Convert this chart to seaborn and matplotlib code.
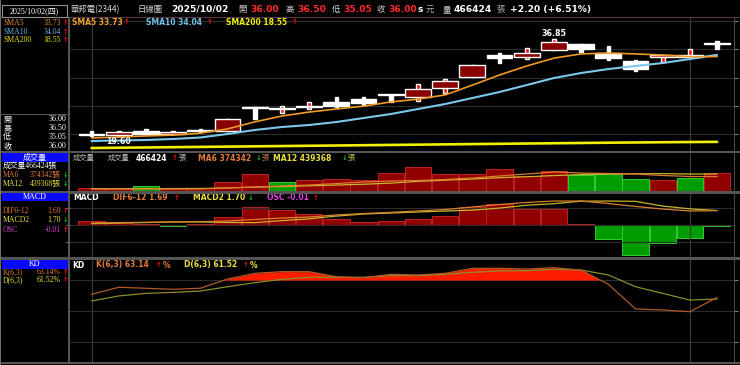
import numpy as np
import pandas as pd
import seaborn as sns
import matplotlib.pyplot as plt
from matplotlib.patches import Rectangle

# ---- values (華邦電 2344, daily) ----
days = list(range(24))
opens = [19.80, 19.80, 20.50, 20.00, 20.45, 20.50, 24.75, 24.35, 24.70, 25.65, 26.20, 26.90,
         26.50, 28.10, 30.10, 34.00, 33.70, 34.90, 35.95, 34.35, 32.95, 33.70, 33.70, 36.00]
highs = [20.45, 20.40, 20.80, 20.45, 20.85, 22.60, 24.75, 24.95, 25.60, 26.55, 26.55, 26.90,
         28.85, 29.70, 32.20, 34.35, 35.25, 36.85, 35.95, 35.60, 33.10, 33.85, 35.05, 36.50]
lows = [19.65, 19.60, 19.95, 19.95, 20.30, 20.45, 22.65, 23.60, 24.40, 24.75, 25.10, 25.65,
        25.90, 27.25, 30.10, 32.60, 33.30, 34.90, 34.55, 33.10, 31.15, 32.75, 33.65, 35.05]
closes = [19.80, 20.30, 19.95, 20.10, 20.50, 22.60, 24.55, 24.50, 24.75, 24.95, 25.50, 26.80,
          27.95, 29.40, 32.20, 33.45, 34.35, 36.30, 35.10, 33.45, 31.50, 33.85, 33.80, 36.00]

sma5 = [19.25, 19.40, 19.60, 19.75, 20.10, 20.85, 22.10, 23.15, 23.85, 24.40, 24.90, 25.65,
        26.15, 26.90, 28.65, 30.45, 32.05, 33.45, 34.20, 34.35, 34.20, 34.00, 33.70, 33.73]
sma10 = [18.70, 18.79, 18.88, 19.06, 19.32, 19.95, 20.66, 21.19, 21.55, 22.08, 22.79, 23.50,
         24.39, 25.28, 26.35, 27.42, 28.66, 29.91, 30.80, 31.51, 32.05, 32.58, 33.29, 34.04]
sma200 = [17.45, 17.50, 17.55, 17.60, 17.65, 17.70, 17.75, 17.80, 17.85, 17.90, 17.95, 18.00,
          18.05, 18.10, 18.15, 18.20, 18.25, 18.30, 18.35, 18.40, 18.44, 18.48, 18.52, 18.55]

vols = [78000, 78000, 122000, 88000, 88000, 233000, 433000, 233000, 277000, 311000, 295000, 466000,
        622000, 433000, 433000, 562000, 381000, 518000, 407000, 433000, 303000, 277000, 337000, 466424]
vol_up = [1, 1, 0, 1, 1, 1, 1, 0, 1, 1, 1, 1, 1, 1, 1, 1, 1, 1, 0, 0, 0, 1, 0, 1]
vol_ma6 = [52000, 52000, 52000, 52000, 52000, 78000, 104000, 130000, 155000, 194000, 233000, 259000,
           272000, 298000, 337000, 389000, 440000, 492000, 466000, 453000, 440000, 402000, 376000, 374342]
vol_ma12 = [60000, 60000, 62000, 64000, 66000, 80000, 100000, 115000, 135000, 155000, 175000, 205000,
            250000, 280000, 310000, 345000, 370000, 400000, 425000, 440000, 445000, 450000, 440000, 439368]

dif = [0.24, 0.29, 0.32, 0.35, 0.39, 0.47, 0.65, 0.82, 0.94, 1.18, 1.35, 1.49,
       1.65, 1.82, 2.12, 2.41, 2.65, 2.82, 2.82, 2.53, 2.18, 1.88, 1.65, 1.69]
macd = [0.16, 0.22, 0.29, 0.37, 0.36, 0.30, 0.28, 0.52, 0.72, 1.05, 1.29, 1.41,
        1.53, 1.64, 1.75, 1.99, 2.33, 2.51, 2.80, 2.82, 2.78, 2.23, 1.90, 1.70]
osc = [0.08, 0.066, 0.026, -0.02, 0.026, 0.166, 0.366, 0.30, 0.22, 0.126, 0.06, 0.08,
       0.12, 0.18, 0.366, 0.42, 0.32, 0.314, 0.02, -0.286, -0.60, -0.354, -0.254, -0.01]

k_val = [66.1, 73.0, 72.0, 71.0, 72.0, 81.0, 86.6, 88.2, 88.2, 83.3, 82.3, 85.6,
         85.0, 86.6, 91.5, 91.5, 90.8, 92.1, 89.8, 75.9, 51.8, 50.8, 49.1, 63.14]
d_val = [59.6, 64.5, 67.0, 68.0, 69.3, 73.5, 77.5, 80.7, 82.7, 82.7, 82.7, 84.3,
         84.3, 85.6, 87.6, 88.9, 89.2, 90.5, 89.8, 85.0, 73.5, 67.0, 60.5, 61.52]

sns.set_theme(style="dark", rc={"axes.facecolor": "black", "figure.facecolor": "black"})

W, H = 740, 365
fig = plt.figure(figsize=(7.4, 3.65), dpi=100)


def fx(x):
    return x / W


def fy(y):
    return 1 - y / H


def add_ax(top, bottom, left=69.5, right=734):
    ax = fig.add_axes([fx(left), fy(bottom), (right - left) / W, (bottom - top) / H])
    ax.set_facecolor("black")
    for s in ax.spines.values():
        s.set_visible(False)
    ax.set_xlim(-0.81, 23.62)
    ax.tick_params(axis="x", bottom=False, labelbottom=False)
    ax.tick_params(axis="y", left=False, labelleft=False, right=True, labelright=False,
                   length=3, width=0.8, color="#808080", direction="out")
    ax.grid(False)
    for d in (0, 22):
        ax.axvline(d, color="#3c3c3c", lw=0.8, zorder=0)
    return ax


def hgrid(ax, levels):
    for v in levels:
        ax.axhline(v, color="#2c2c2c", lw=0.8, zorder=0)
    ax.set_yticks(levels)


def txt(x, y, s, color, size=5.5, kind="b", ha="left"):
    if kind == "c":
        kw = dict(family=["Noto Sans CJK TC", "DejaVu Sans"])
    elif kind == "s":
        kw = dict(family=["Liberation Serif", "Noto Sans CJK TC"])
    else:
        kw = dict(family=["DejaVu Sans"], fontweight="bold")
    fig.text(fx(x), fy(y), s, color=color, fontsize=size, ha=ha, va="center", **kw)


def rect(x0, y0, x1, y1, color, z=5, fill=True, ec=None):
    fig.add_artist(Rectangle((fx(x0), fy(y1)), (x1 - x0) / W, (y1 - y0) / H,
                             transform=fig.transFigure, facecolor=color if fill else "none",
                             edgecolor=ec if ec else "none", lw=0.8, zorder=z))


# ---- price panel ----
ax_p = add_ax(17.5, 150.5)
ax_p.set_ylim(17.01, 40.68)
hgrid(ax_p, [20, 25, 30, 35, 40])

for i in days:
    o, h, l, c = opens[i], highs[i], lows[i], closes[i]
    if c > o:
        body, wick = "#8a0000", "#ff1010"
    elif c < o:
        body, wick = "#ffffff", "#ffffff"
    else:
        body, wick = "#b8b8b8", "#ffffff"
    ax_p.bar(i, h - l, bottom=l, width=0.13, color=wick, zorder=2)
    bh = max(abs(c - o), 0.22)
    ax_p.bar(i, bh, bottom=min(o, c), width=0.95, color=body, zorder=3)

sns.lineplot(x=days, y=sma200, color="#f0f000", lw=1.9, ax=ax_p, zorder=4)
sns.lineplot(x=days, y=sma10, color="#7cc8ec", lw=1.5, ax=ax_p, zorder=4)
sns.lineplot(x=days, y=sma5, color="#f09a28", lw=1.2, ax=ax_p, zorder=5)
ax_p.set_xlim(-0.81, 23.62)
ax_p.set_ylim(17.01, 40.68)
ax_p.annotate("36.85", (17, 36.85), xytext=(0, 3), textcoords="offset pixels",
              ha="center", va="baseline", color="white", fontsize=5.7, fontweight="bold",
              family=["DejaVu Sans"], zorder=6)
ax_p.annotate("19.60", (1, 19.60), xytext=(0, -1.5), textcoords="offset pixels",
              ha="center", va="top", color="white", fontsize=5.7, fontweight="bold",
              family=["DejaVu Sans"], zorder=6)

# ---- volume panel ----
ax_v = add_ax(152.5, 191)
ax_v.set_ylim(0, 997600)
ax_v.set_yticks([])
fills = ["#900000" if u else "#009c00" for u in vol_up]
edges = ["#c02020" if u else "#30d030" for u in vol_up]
ax_v.bar(days, vols, width=0.97, color=fills, edgecolor=edges, lw=0.7, zorder=2)
sns.lineplot(x=days, y=vol_ma12, color="#c8b830", lw=0.9, ax=ax_v, zorder=3)
sns.lineplot(x=days, y=vol_ma6, color="#e07830", lw=0.9, ax=ax_v, zorder=3)
ax_v.set_xlim(-0.81, 23.62)
ax_v.set_ylim(0, 997600)

# ---- MACD panel ----
ax_m = add_ax(193.5, 257)
hgrid(ax_m, [-2, 0, 2])
ax_o = ax_m.twinx()
ax_o.set_ylim(-0.64, 0.63)
ax_o.axis("off")
ofill = ["#900000" if v >= 0 else "#009c00" for v in osc]
oedge = ["#c02020" if v >= 0 else "#30d030" for v in osc]
ax_o.bar(days, osc, width=0.97, color=ofill, edgecolor=oedge, lw=0.7, zorder=2)
sns.lineplot(x=days, y=macd, color="#c8b428", lw=0.9, ax=ax_m, zorder=3)
sns.lineplot(x=days, y=dif, color="#d88030", lw=0.9, ax=ax_m, zorder=3)
ax_m.set_zorder(ax_o.get_zorder() + 1)
ax_m.patch.set_visible(False)
ax_o.set_xlim(-0.81, 23.62)
ax_m.set_xlim(-0.81, 23.62)
ax_m.set_ylim(-3.765, 3.706)

# ---- KD panel ----
ax_k = add_ax(259.5, 362)
hgrid(ax_k, [20, 50, 80])
kv = np.array(k_val)
ax_k.fill_between(days, 80, kv, where=kv > 80, interpolate=True, color="#ff1c00", lw=0, zorder=2)
sns.lineplot(x=days, y=d_val, color="#8c8c2c", lw=0.9, ax=ax_k, zorder=3)
sns.lineplot(x=days, y=k_val, color="#b05a28", lw=0.9, ax=ax_k, zorder=3)
ax_k.set_xlim(-0.81, 23.62)
ax_k.set_ylim(0, 100.1)

# ---- frame / separators ----
rect(0, 17, 740, 17.8, "#5a3a48")
for y0, y1 in [(150.5, 152.5), (191, 193.5), (257, 259.5), (362, 364)]:
    rect(0, y0, 740, y1, "#555555")
rect(68, 17, 69.5, 364, "#555555")
rect(0, 0, 1, 365, "#707070")
rect(734, 17, 734.8, 364, "#4a4a4a")
rect(0, 114, 68, 114.8, "#555555")

# ---- header row ----
rect(2, 5, 67, 16.7, "black", fill=False, ec="#909090")
txt(34.5, 11, "2025/10/02(四)", "white", size=5.8, kind="s", ha="center")
header = [
    (71, "華邦電(2344)", "#d8d8d8", "c", 6.0),
    (138, "日線圖", "#d8d8d8", "c", 6.0),
    (171, "2025/10/02", "white", "b", 6.6),
    (238, "開", "#d0d0d0", "c", 6.0),
    (250, "36.00", "#ff2a2a", "b", 6.6),
    (285, "高", "#d0d0d0", "c", 6.0),
    (297, "36.50", "#ff2a2a", "b", 6.6),
    (332, "低", "#d0d0d0", "c", 6.0),
    (343, "35.05", "#ff2a2a", "b", 6.6),
    (377, "收", "#d0d0d0", "c", 6.0),
    (388, "36.00", "#ff2a2a", "b", 6.6),
    (418, "s", "white", "b", 6.6),
    (426, "元", "#b0b0b0", "c", 6.0),
    (443, "量", "#d0d0d0", "c", 6.0),
    (454, "466424", "white", "b", 6.6),
    (496, "張", "#b0b0b0", "c", 6.0),
    (510, "+2.20 (+6.51%)", "white", "b", 6.6),
]
for x, s, c, k, sz in header:
    txt(x, 9.5, s, c, size=sz, kind=k)

UP, DN = "#ff1010", "#10c010"
ORG, YEL = "#e07a3a", "#e8e040"

# ---- panel legends ----
legends = [
    (22.5, [(72, "SMA5 33.73", "#f0a030", "b"), (124, "↑", UP, "b"),
            (146, "SMA10 34.04", "#70c0e8", "b"), (207, "↑", UP, "b"),
            (226, "SMA200 18.55", "#f0f000", "b"), (292, "↑", UP, "b")]),
    (158.3, [(73, "成交量", "#c0c0c0", "c"), (108, "成交量", "#c0c0c0", "c"),
             (136, "466424", "white", "b"), (171.5, "↑", UP, "b"), (178.5, "張", "#c0c0c0", "c"),
             (198, "MA6 374342", ORG, "b"), (255.5, "↓", DN, "b"), (261.5, "張", "#c08050", "c"),
             (273, "MA12 439368", YEL, "b"), (341.5, "↓", DN, "b"), (348, "張", "#c8c850", "c")]),
    (197.5, [(73, "MACD", "white", "b"), (113, "DIF6-12 1.69", ORG, "b"), (173.5, "↑", UP, "b"),
             (193, "MACD2 1.70", YEL, "b"), (247.5, "↓", DN, "b"),
             (267, "OSC -0.01", "#e040e0", "b"), (312.5, "↑", UP, "b")]),
    (265, [(72, "KD", "white", "b"), (96, "K(6,3) 63.14", ORG, "b"), (156, "↑", UP, "b"),
           (162.5, "%", ORG, "b"), (184, "D(6,3) 61.52", YEL, "b"), (243, "↑", UP, "b"),
           (249.5, "%", YEL, "b")]),
]
for y, items in legends:
    for x, s, c, k in items:
        if k == "c":
            txt(x, y, s, c, size=5.2, kind=k)
        elif s in ("↑", "↓"):
            txt(x, y, s, c, size=5.0, kind=k)
        else:
            txt(x, y, s, c, size=5.5, kind=k)

# ---- left info column ----
left_rows = [
    (22.7, "SMA5", "33.73", "#e09030", "↑", UP),
    (31.7, "SMA10", "34.04", "#60b0e0", "↑", UP),
    (40.5, "SMA200", "18.55", "#e0e000", "↑", UP),
    (175, "MA6", "374342張", ORG, "↓", DN),
    (184.3, "MA12", "439368張", YEL, "↓", DN),
    (210.7, "DIF6-12", "1.69", ORG, "↑", UP),
    (220.3, "MACD2", "1.70", YEL, "↓", DN),
    (229.5, "OSC", "-0.01", "#e040e0", "↑", UP),
    (271.7, "K(6,3)", "63.14%", ORG, "↑", UP),
    (280.5, "D(6,3)", "61.52%", YEL, "↑", UP),
]
for y, name, val, c, arr, ac in left_rows:
    txt(3, y, name, c, size=5.6, kind="s")
    txt(61, y, val, c, size=5.6, kind="s", ha="right")
    txt(63, y, arr, ac, size=4.8, kind="b")

ohlc_rows = [(119.5, "開", "36.00"), (128.3, "高", "36.50"), (137, "低", "35.05"), (146, "收", "36.00")]
for y, name, val in ohlc_rows:
    txt(3, y, name, "white", size=5.8, kind="c")
    txt(66, y, val, "white", size=5.8, kind="s", ha="right")

for y0, y1, name in [(152.8, 162, "成交量"), (192.8, 200.6, "MACD"), (260, 268.5, "KD")]:
    rect(1.5, y0, 67.5, y1, "#0a0aff", z=6)
    fig.text(fx(34.5), fy((y0 + y1) / 2), name, color="white", fontsize=5.8, ha="center",
             va="center", family=["Liberation Serif", "Noto Sans CJK TC"], zorder=7)
txt(3, 166, "成交量466424張", "white", size=5.6, kind="s")

fig.savefig("out.png", dpi=100, facecolor="black")
